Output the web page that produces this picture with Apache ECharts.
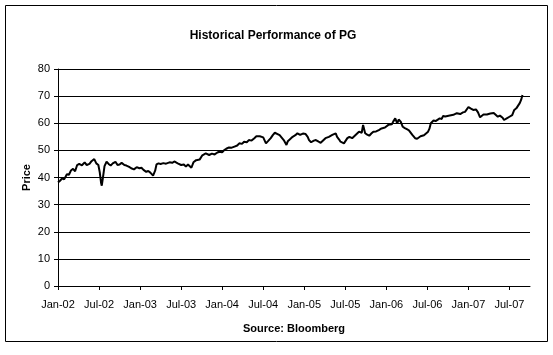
<!DOCTYPE html>
<html><head><meta charset="utf-8">
<script src="https://cdn.jsdelivr.net/npm/echarts@6/dist/echarts.min.js"></script>
<style>html,body{margin:0;padding:0;background:#fff}#c{width:553px;height:355px}</style>
</head><body><div id="c"></div>
<script>
// months since Jan-2002
const monthOffset = [0,0.3,0.6,0.9,1.3,1.6,1.9,2.2,2.5,2.8,3.1,3.5,3.9,4.2,4.6,4.9,5.3,5.6,5.9,6.1,6.3,6.4,6.6,6.8,7.1,7.4,7.7,8.0,8.4,8.7,9.0,9.3,9.7,10.0,10.4,10.7,11.1,11.5,11.9,12.2,12.5,12.9,13.2,13.5,13.9,14.2,14.4,14.7,15.0,15.4,15.8,16.3,16.7,17.0,17.5,18.0,18.4,18.7,19.0,19.2,19.5,19.8,20.2,20.7,21.1,21.6,22.1,22.5,22.9,23.3,23.6,24.0,24.3,24.6,25.0,25.4,25.8,26.2,26.5,26.9,27.2,27.6,27.9,28.3,28.7,29.0,29.2,29.5,29.7,30.0,30.2,30.4,30.7,31.1,31.4,31.7,32.1,32.4,32.6,33.0,33.2,33.4,33.6,33.8,34.3,34.7,35.0,35.4,35.8,36.2,36.5,36.7,37.0,37.2,37.4,37.7,38.1,38.4,38.6,39.1,39.6,40.1,40.6,40.8,41.1,41.3,41.8,42.3,42.6,43.0,43.5,44.0,44.4,44.6,44.9,45.2,45.5,45.8,46.1,46.5,46.9,47.3,47.8,48.0,48.3,48.5,48.8,49.0,49.3,49.6,49.8,50.1,50.4,50.7,51.0,51.3,51.5,51.8,52.0,52.2,52.5,52.7,53.0,53.2,53.5,53.7,54.1,54.3,54.5,54.9,55.2,55.4,55.8,56.1,56.3,56.6,56.8,57.1,57.3,57.8,58.0,58.3,58.8,59.2,59.5,59.7,60.0,60.3,60.7,61.1,61.4,61.7,61.9,62.2,62.4,62.7,62.9,63.2,63.4,63.7,63.9,64.3,64.6,64.8,65.0,65.2,65.4,65.6,66.0,66.4,66.7,67.0,67.2,67.5,67.7,67.9];
const price = [38.2,38.8,39.7,39.3,41.2,41.0,42.6,43.2,42.3,44.6,45.0,44.5,45.6,44.6,45.0,46.0,46.8,45.2,44.6,42.0,38.0,37.0,40.5,44.2,45.8,45.0,44.4,45.2,45.8,44.6,44.8,45.4,44.6,44.4,43.9,43.4,43.0,43.8,43.4,43.6,42.8,42.1,42.4,41.8,40.7,42.5,44.8,45.2,45.0,45.3,45.1,45.6,45.4,45.9,45.2,44.6,44.8,44.0,44.8,44.2,43.6,45.6,46.4,46.6,48.2,48.9,48.3,48.8,48.5,49.2,49.5,49.3,50.1,50.6,51.1,51.0,51.4,51.8,52.6,52.4,53.2,53.0,53.8,53.6,54.5,55.2,55.7,55.2,55.0,54.8,54.5,52.6,53.4,54.5,55.6,56.5,56.0,55.6,55.0,53.8,53.2,52.0,53.4,54.1,55.0,55.6,56.3,55.7,56.2,56.0,55.0,53.8,53.0,52.6,53.6,53.8,53.2,52.8,52.6,54.5,55.0,55.7,56.3,55.0,54.0,53.2,52.6,54.5,55.0,54.5,55.7,56.9,56.5,59.4,56.3,55.8,55.4,56.2,56.9,57.0,57.5,58.1,58.4,58.0,59.4,59.0,59.6,60.6,61.8,59.9,61.4,60.6,58.7,58.2,57.8,57.4,56.9,55.7,55.0,54.5,54.3,54.9,55.2,55.7,55.6,56.3,56.9,58.0,60.0,61.0,60.8,61.4,61.8,61.6,62.7,62.5,63.1,62.8,63.4,63.1,63.6,63.7,63.4,64.0,64.2,64.9,66.0,65.5,64.9,65.1,64.0,62.2,62.8,63.2,63.7,63.2,63.0,63.6,64.1,63.8,63.5,62.4,62.8,63.0,62.0,61.2,61.4,61.8,62.4,63.0,64.9,65.5,65.5,67.4,68.6,70.4];
const monthNames = ['Jan','Feb','Mar','Apr','May','Jun','Jul','Aug','Sep','Oct','Nov','Dec'];
const yTicks = [0,10,20,30,40,50,60,70,80];

const points = monthOffset.map((m,i)=>[m, price[i]]);
const font = 'Arial, "Liberation Sans", sans-serif';
const chart = echarts.init(document.getElementById('c'), null, {renderer:'canvas'});
chart.setOption({
  animation:false,
  backgroundColor:'#fff',
  title:{text:'Historical Performance of PG', left:268, top:25, textAlign:'center',
    textStyle:{fontFamily:font,fontSize:12,fontWeight:'bold',color:'#000'}},
  graphic:[{type:'rect',shape:{x:5.5,y:5.5,width:542,height:336},style:{fill:'none',stroke:'#000',lineWidth:1}}],
  grid:{left:58,right:23,top:69,bottom:69,containLabel:false},
  xAxis:{type:'value',min:0,max:69,interval:6,
    name:'Source: Bloomberg',nameLocation:'middle',nameGap:37,nameMoveOverlap:false,
    nameTextStyle:{fontFamily:font,fontSize:11,fontWeight:'bold',color:'#000'},
    axisLine:{show:true,lineStyle:{color:'#000',width:1}},
    axisTick:{show:true,length:4,inside:false,lineStyle:{color:'#000'}},
    splitLine:{show:false},
    axisLabel:{color:'#000',fontFamily:font,fontSize:11,margin:13,showMaxLabel:false,
      formatter:v=>{const y=Math.floor(v/12),mo=Math.round(v-y*12);return monthNames[mo]+'-'+String(2+y).padStart(2,'0');}}},
  yAxis:{type:'value',min:yTicks[0],max:yTicks[yTicks.length-1],interval:10,
    name:'Price',nameLocation:'middle',nameGap:26,nameRotate:90,nameMoveOverlap:false,
    nameTextStyle:{fontFamily:font,fontSize:11,fontWeight:'bold',color:'#000'},
    axisLine:{show:true,lineStyle:{color:'#000',width:1}},
    axisTick:{show:true,length:4,lineStyle:{color:'#000'}},
    splitLine:{show:true,lineStyle:{color:'#000',width:1}},
    axisLabel:{color:'#000',fontFamily:font,fontSize:11,margin:8}},
  series:[{type:'line',data:points,showSymbol:false,symbol:'none',
    lineStyle:{color:'#000',width:2},z:5}]
});
</script></body></html>
